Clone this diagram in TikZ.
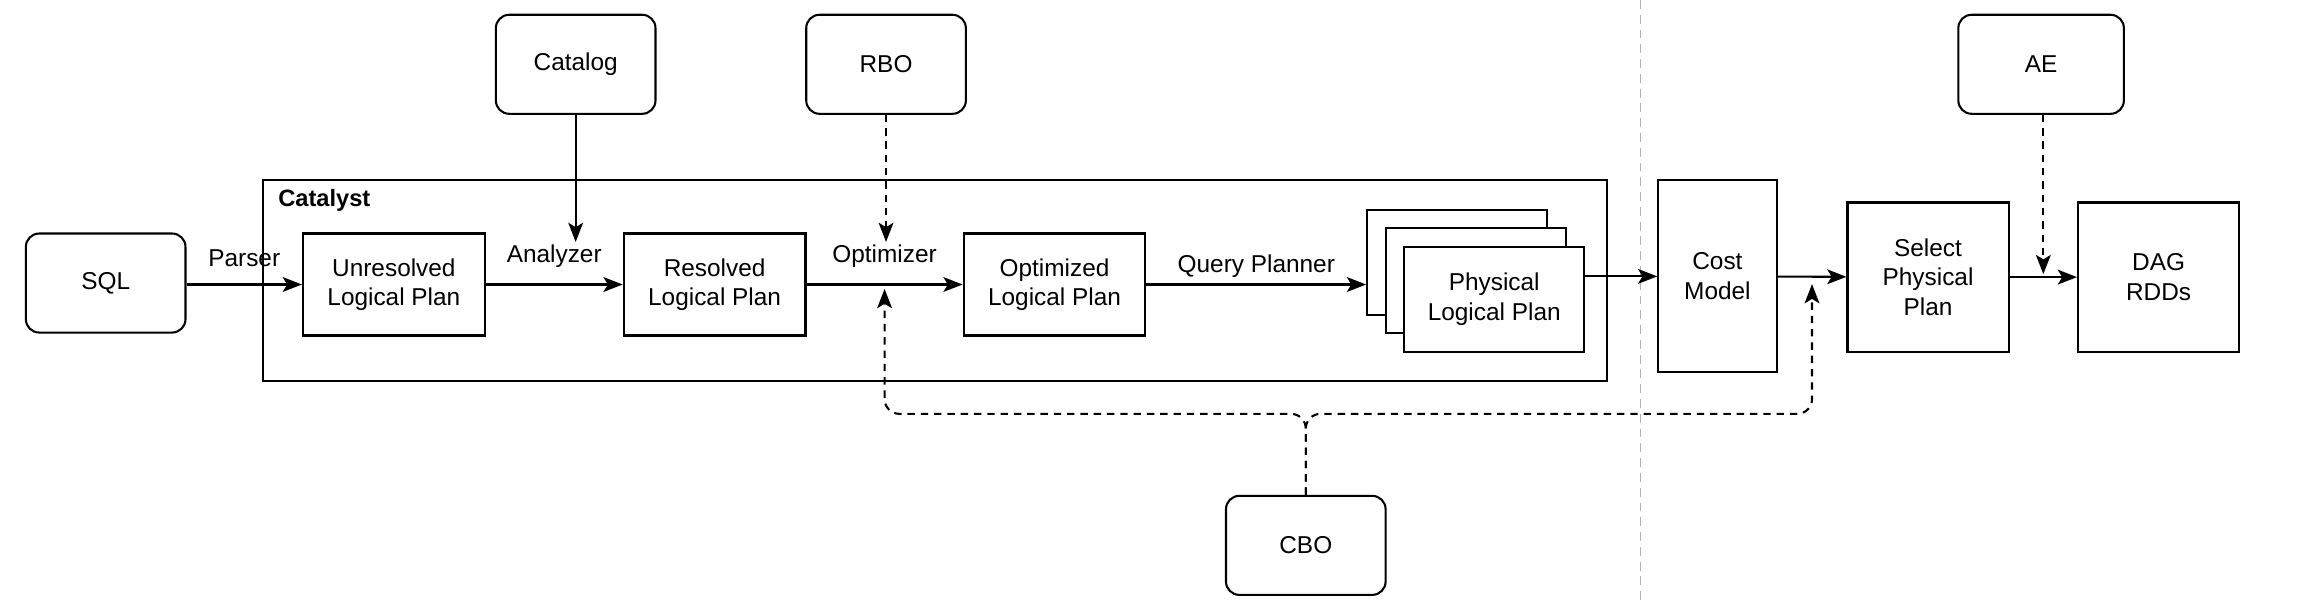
\documentclass[tikz,border=0pt]{standalone}
\usepackage{fontspec}
\setmainfont{Liberation Sans}
\usepackage{xcolor}
\usetikzlibrary{positioning,arrows.meta}

\begin{document}
\begin{tikzpicture}[
    x=1pt,y=-1pt,
    font=\fontsize{16.5}{20}\selectfont,
    line width=1.4pt,
    box/.style={draw,fill=white,align=center,minimum width=123pt,minimum height=69pt,inner sep=2pt},
    rbox/.style={box,rounded corners=9pt,minimum width=108pt,minimum height=67pt},
    flow/.style={-{Stealth[length=13pt,width=10pt,inset=3pt]}},
    hint/.style={flow,dash pattern=on 5pt off 4pt},
    lbl/.style={above=10pt,inner sep=1pt}
  ]
    \useasboundingbox (0,0) rectangle (1567,409);
    \draw[gray!60,line width=0.9pt,dash pattern=on 6pt off 4pt] (1110,0) -- (1110,409);

    \node[rbox] (sql) at (71.5,191.5) {SQL};
    \node[box,minimum width=909pt,minimum height=136pt] (catalyst) at (632.5,190) {};
    \node[anchor=north west,font=\fontsize{16}{19}\selectfont\bfseries] (catalystlbl) at ([xshift=7pt,yshift=-3pt]catalyst.north west) {Catalyst};
    \node[box] (unres) at (266.5,192.5) {Unresolved\\Logical Plan};
    \node[box] (res) at (483.5,192.5) {Resolved\\Logical Plan};
    \node[box] (opt) at (713.5,192.5) {Optimized\\Logical Plan};
    \node[box,minimum width=122pt,minimum height=71pt] (phys3) at (986,177.5) {};
    \node[box,minimum width=122pt,minimum height=71pt] (phys2) at (998.5,190) {};
    \node[box,minimum width=122pt,minimum height=71pt] (phys) at (1011,202.5) {Physical\\Logical Plan};

    \node[rbox] (catalog) at (389.5,43.5) {Catalog};
    \node[rbox] (rbo) at (599.5,43.5) {RBO};
    \node[rbox] (cbo) at (883.5,369) {CBO};
    \node[rbox,minimum width=112pt] (ae) at (1381,43.5) {AE};

    \node[box,minimum width=80pt,minimum height=130pt] (cost) at (1162,187) {Cost\\Model};
    \node[box,minimum width=109pt,minimum height=101pt] (sel) at (1304.5,187.5) {Select\\Physical\\Plan};
    \node[box,minimum width=109pt,minimum height=101pt] (dag) at (1460.5,187.5) {DAG\\RDDs};

    % main flow
    \draw[flow] (sql.east |- unres.west) -- node[lbl] (parser) {Parser} (unres.west);
    \draw[flow] (unres) -- node[lbl] (analyzer) {Analyzer} (res);
    \draw[flow] (res) -- node[lbl] (optimizer) {Optimizer} coordinate (optin) (opt);
    \draw[flow] (opt.east) -- node[lbl,above=3pt] (planner) {Query Planner} (opt.east -| phys3.west);
    \draw[flow] (phys.east |- cost.west) -- (cost.west);
    \draw[flow] (cost) -- coordinate (costout) (sel);
    \draw[flow] (sel) -- coordinate (aein) (dag);

    % side inputs
    \draw[flow] (catalog) -- (catalog.south |- analyzer.north);
    \draw[hint] (rbo) -- (rbo.south |- optimizer.north);
    \draw[hint] (ae.south -| aein) -- ([yshift=2pt]aein);
    \coordinate (cbobus) at (883.5,280);
    \draw[hint,rounded corners=10pt] (cbo.north) |- (cbobus -| optin) -- ([yshift=-3pt]optin);
    \draw[hint,rounded corners=10pt] (cbo.north) |- (cbobus -| costout) -- ([yshift=-5pt]costout);
\end{tikzpicture}
\end{document}
